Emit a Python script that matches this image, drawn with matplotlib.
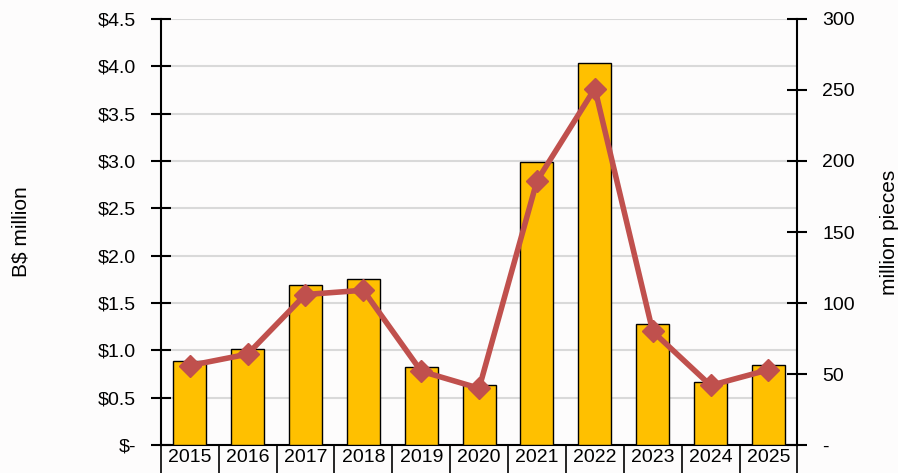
import matplotlib.pyplot as plt
import numpy as np

years = ['2015', '2016', '2017', '2018', '2019', '2020', '2021', '2022', '2023', '2024', '2025']
value_bn = [0.89, 1.01, 1.69, 1.75, 0.82, 0.63, 2.99, 4.03, 1.28, 0.67, 0.85]
pieces_m = [56, 64, 106, 109, 52, 40, 186, 251, 80, 42, 53]

left_ticks = [0, 0.5, 1.0, 1.5, 2.0, 2.5, 3.0, 3.5, 4.0, 4.5]
right_ticks = [0, 50, 100, 150, 200, 250, 300]

plt.rcParams['font.family'] = ['Liberation Sans', 'DejaVu Sans']

fig = plt.figure(figsize=(8.98, 4.73), dpi=100)
fig.patch.set_facecolor('#fdfcfc')
ax = fig.add_axes([0.179, 0.059, 0.709, 0.901])
ax.set_facecolor('#fdfcfc')
x = np.arange(len(years))

# barres (axe gauche)
ax.bar(x, value_bn, width=0.57, color='#FFC000', edgecolor='black', linewidth=1, zorder=3)
ax.set_xlim(-0.5, len(years) - 0.5)
ax.set_ylim(0, 4.5)
ax.set_yticks(left_ticks)
ax.set_yticklabels(['$-' if v == 0 else f'${v:.1f}' for v in left_ticks], fontsize=14)
ax.yaxis.grid(True, color='#d9d9d9', linewidth=1.5, zorder=0)
ax.set_axisbelow(True)
ax.tick_params(axis='y', direction='inout', length=14, width=1.5, pad=11)
ax.tick_params(axis='x', length=0, pad=3)
ax.set_xticks(x)
ax.set_xticklabels(years, fontsize=14)
for s in ['top', 'right']:
    ax.spines[s].set_visible(False)
ax.spines['left'].set_linewidth(1.5)
ax.spines['bottom'].set_linewidth(1.5)
ax.set_ylabel('B$ million', fontsize=15, labelpad=48)

# séparateurs sous l'axe x
for b in np.arange(-0.5, len(years), 1.0):
    ax.plot([b, b], [0, -0.07], transform=ax.get_xaxis_transform(),
            color='black', linewidth=1.2, clip_on=False)

# ligne (axe droit)
ax2 = ax.twinx()
ax2.plot(x, pieces_m, color='#C0504D', linewidth=4, marker='D', markersize=11, zorder=4)
ax2.set_ylim(0, 300)
ax2.set_yticks(right_ticks)
ax2.set_yticklabels(['-' if v == 0 else str(v) for v in right_ticks], fontsize=14)
ax2.tick_params(axis='y', direction='inout', length=14, width=1.5, pad=11)
for s in ['top', 'left', 'bottom']:
    ax2.spines[s].set_visible(False)
ax2.spines['right'].set_linewidth(1.5)
ax2.set_ylabel('million pieces', fontsize=15, labelpad=18)

fig.savefig('out.png', dpi=100, facecolor=fig.get_facecolor())
